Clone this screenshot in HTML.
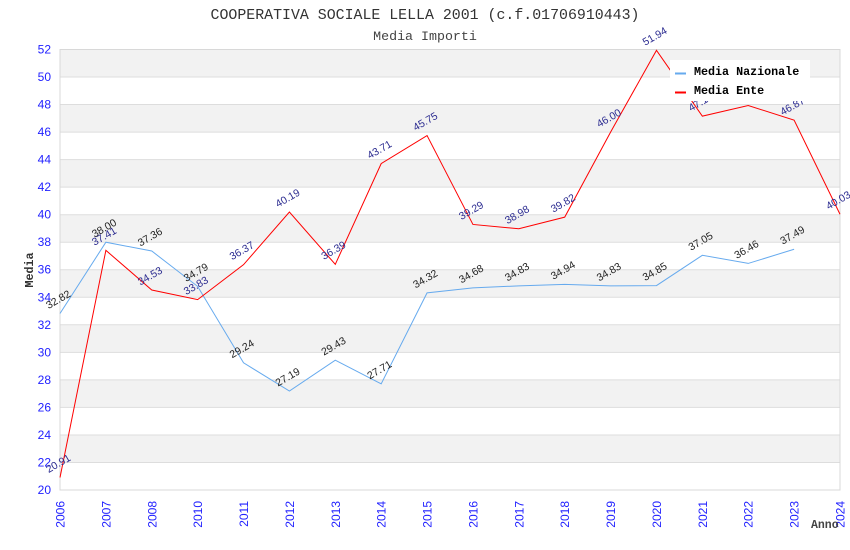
<!DOCTYPE html>
<html><head><meta charset="utf-8"><style>
html,body{margin:0;padding:0;background:#fff;width:850px;height:550px;overflow:hidden}
svg{display:block}
.mono{font-family:"Liberation Mono","DejaVu Sans Mono",monospace}
.yt{font-family:"Liberation Sans","DejaVu Sans",sans-serif;font-size:12px;fill:#2222ff;text-anchor:end}
.xt{font-family:"Liberation Sans","DejaVu Sans",sans-serif;font-size:12px;fill:#2222ff;text-anchor:end}
.ln{font-family:"Liberation Sans","DejaVu Sans",sans-serif;font-size:10.5px;fill:#222;text-anchor:middle}
.le{font-family:"Liberation Sans","DejaVu Sans",sans-serif;font-size:10.5px;fill:#2b2b90;text-anchor:middle}
</style></head><body>
<svg width="850" height="550" viewBox="0 0 850 550" xmlns="http://www.w3.org/2000/svg">
<rect x="0" y="0" width="850" height="550" fill="#fff"/>
<text x="425" y="19" class="mono" font-size="14.9" fill="#333" text-anchor="middle">COOPERATIVA SOCIALE LELLA 2001 (c.f.01706910443)</text>
<text x="425" y="40" class="mono" font-size="13.3" fill="#444" text-anchor="middle">Media Importi</text>

<!-- bands -->
<g fill="#f2f2f2">
<rect x="60" y="49.5" width="780" height="27.53"/>
<rect x="60" y="104.56" width="780" height="27.53"/>
<rect x="60" y="159.62" width="780" height="27.53"/>
<rect x="60" y="214.69" width="780" height="27.53"/>
<rect x="60" y="269.75" width="780" height="27.53"/>
<rect x="60" y="324.81" width="780" height="27.53"/>
<rect x="60" y="379.87" width="780" height="27.53"/>
<rect x="60" y="434.94" width="780" height="27.53"/>
</g>
<g stroke="#dddddd" stroke-width="1">
<line x1="60" x2="840" y1="77.03" y2="77.03"/>
<line x1="60" x2="840" y1="104.56" y2="104.56"/>
<line x1="60" x2="840" y1="132.09" y2="132.09"/>
<line x1="60" x2="840" y1="159.62" y2="159.62"/>
<line x1="60" x2="840" y1="187.16" y2="187.16"/>
<line x1="60" x2="840" y1="214.69" y2="214.69"/>
<line x1="60" x2="840" y1="242.22" y2="242.22"/>
<line x1="60" x2="840" y1="269.75" y2="269.75"/>
<line x1="60" x2="840" y1="297.28" y2="297.28"/>
<line x1="60" x2="840" y1="324.81" y2="324.81"/>
<line x1="60" x2="840" y1="352.34" y2="352.34"/>
<line x1="60" x2="840" y1="379.87" y2="379.87"/>
<line x1="60" x2="840" y1="407.41" y2="407.41"/>
<line x1="60" x2="840" y1="434.94" y2="434.94"/>
<line x1="60" x2="840" y1="462.47" y2="462.47"/>
</g>
<rect x="60" y="49.5" width="780" height="440.5" fill="none" stroke="#d8d8d8" stroke-width="1"/>

<!-- y ticks -->
<g class="yt">
<text x="51" y="53.5">52</text>
<text x="51" y="81">50</text>
<text x="51" y="108.5">48</text>
<text x="51" y="136">46</text>
<text x="51" y="163.6">44</text>
<text x="51" y="191.2">42</text>
<text x="51" y="218.7">40</text>
<text x="51" y="246.2">38</text>
<text x="51" y="273.7">36</text>
<text x="51" y="301.3">34</text>
<text x="51" y="328.8">32</text>
<text x="51" y="356.3">30</text>
<text x="51" y="383.9">28</text>
<text x="51" y="411.4">26</text>
<text x="51" y="438.9">24</text>
<text x="51" y="466.5">22</text>
<text x="51" y="494">20</text>
</g>
<text transform="translate(33,270) rotate(-90)" class="mono" font-size="11.7" font-weight="bold" fill="#333" text-anchor="middle">Media</text>

<!-- x ticks -->
<g class="xt">
<text transform="translate(64.5,501) rotate(-90)">2006</text>
<text transform="translate(110.4,501) rotate(-90)">2007</text>
<text transform="translate(156.3,501) rotate(-90)">2008</text>
<text transform="translate(202.1,501) rotate(-90)">2010</text>
<text transform="translate(248,501) rotate(-90)">2011</text>
<text transform="translate(293.9,501) rotate(-90)">2012</text>
<text transform="translate(339.8,501) rotate(-90)">2013</text>
<text transform="translate(385.7,501) rotate(-90)">2014</text>
<text transform="translate(431.6,501) rotate(-90)">2015</text>
<text transform="translate(477.4,501) rotate(-90)">2016</text>
<text transform="translate(523.3,501) rotate(-90)">2017</text>
<text transform="translate(569.2,501) rotate(-90)">2018</text>
<text transform="translate(615.1,501) rotate(-90)">2019</text>
<text transform="translate(661,501) rotate(-90)">2020</text>
<text transform="translate(706.9,501) rotate(-90)">2021</text>
<text transform="translate(752.7,501) rotate(-90)">2022</text>
<text transform="translate(798.6,501) rotate(-90)">2023</text>
<text transform="translate(844.5,501) rotate(-90)">2024</text>
</g>
<text x="811" y="528" class="mono" font-size="11.5" font-weight="bold" fill="#444">Anno</text>

<!-- series -->
<polyline fill="none" stroke="#66aaee" stroke-width="1" points="60,313.52 105.88,242.22 151.76,251.03 197.65,286.41 243.53,362.81 289.41,391.03 335.29,360.19 381.18,383.87 427.06,292.88 472.94,287.92 518.82,285.86 564.71,284.34 610.59,285.86 656.47,285.58 702.35,255.30 748.24,263.42 794.12,249.24"/>
<polyline fill="none" stroke="#ff0000" stroke-width="1" points="60,477.47 105.88,250.34 151.76,289.99 197.65,299.62 243.53,264.66 289.41,212.07 335.29,264.38 381.18,163.62 427.06,135.54 472.94,224.46 518.82,228.73 564.71,217.17 610.59,132.09 656.47,50.33 702.35,116.13 748.24,105.53 794.12,120.12 840,214.28"/>

<!-- labels Nazionale -->
<g class="ln">
<text transform="translate(60,302.5) rotate(-30)">32.82</text>
<text transform="translate(105.88,231.2) rotate(-30)">38.00</text>
<text transform="translate(151.76,240) rotate(-30)">37.36</text>
<text transform="translate(197.65,275.4) rotate(-30)">34.79</text>
<text transform="translate(243.53,351.8) rotate(-30)">29.24</text>
<text transform="translate(289.41,380) rotate(-30)">27.19</text>
<text transform="translate(335.29,349.2) rotate(-30)">29.43</text>
<text transform="translate(381.18,372.9) rotate(-30)">27.71</text>
<text transform="translate(427.06,281.9) rotate(-30)">34.32</text>
<text transform="translate(472.94,276.9) rotate(-30)">34.68</text>
<text transform="translate(518.82,274.9) rotate(-30)">34.83</text>
<text transform="translate(564.71,273.3) rotate(-30)">34.94</text>
<text transform="translate(610.59,274.9) rotate(-30)">34.83</text>
<text transform="translate(656.47,274.6) rotate(-30)">34.85</text>
<text transform="translate(702.35,244.3) rotate(-30)">37.05</text>
<text transform="translate(748.24,252.4) rotate(-30)">36.46</text>
<text transform="translate(794.12,238.2) rotate(-30)">37.49</text>
</g>
<!-- labels Ente -->
<g class="le">
<text transform="translate(60,466.5) rotate(-30)">20.91</text>
<text transform="translate(105.88,239.3) rotate(-30)">37.41</text>
<text transform="translate(151.76,279) rotate(-30)">34.53</text>
<text transform="translate(197.65,288.6) rotate(-30)">33.83</text>
<text transform="translate(243.53,253.7) rotate(-30)">36.37</text>
<text transform="translate(289.41,201.1) rotate(-30)">40.19</text>
<text transform="translate(335.29,253.4) rotate(-30)">36.39</text>
<text transform="translate(381.18,152.6) rotate(-30)">43.71</text>
<text transform="translate(427.06,124.5) rotate(-30)">45.75</text>
<text transform="translate(472.94,213.5) rotate(-30)">39.29</text>
<text transform="translate(518.82,217.7) rotate(-30)">38.98</text>
<text transform="translate(564.71,206.2) rotate(-30)">39.82</text>
<text transform="translate(610.59,121.1) rotate(-30)">46.00</text>
<text transform="translate(656.47,39.3) rotate(-30)">51.94</text>
<text transform="translate(702.35,105.1) rotate(-30)">47.16</text>
<text transform="translate(748.24,94.5) rotate(-30)">47.93</text>
<text transform="translate(794.12,109.1) rotate(-30)">46.87</text>
<text transform="translate(840,203.3) rotate(-30)">40.03</text>
</g>

<!-- legend -->
<rect x="670" y="60" width="140" height="41" fill="#fff"/>
<rect x="675" y="72.5" width="11" height="2" fill="#66aaee"/>
<rect x="675" y="91.5" width="11" height="2" fill="#ff0000"/>
<text x="694" y="75" class="mono" font-size="11.7" font-weight="bold" fill="#000">Media Nazionale</text>
<text x="694" y="94" class="mono" font-size="11.7" font-weight="bold" fill="#000">Media Ente</text>
</svg>
</body></html>
